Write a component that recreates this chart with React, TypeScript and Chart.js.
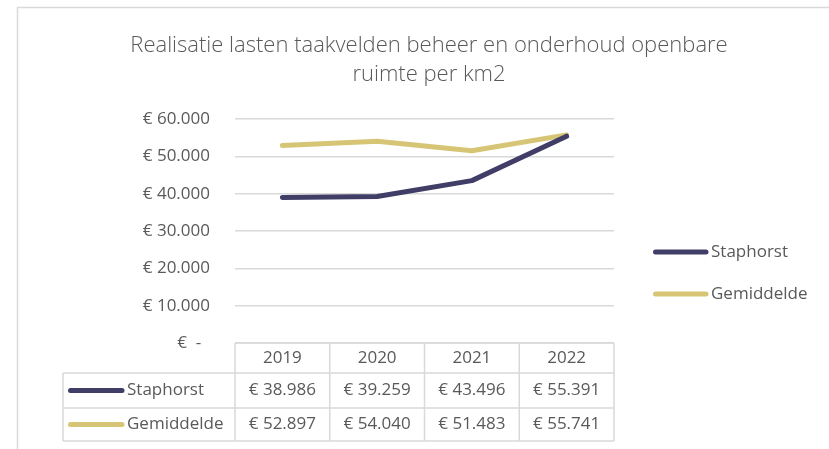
import React, { useEffect, useRef } from "react";
import { Chart, registerables } from "chart.js";

Chart.register(...registerables);

const titleLines = ["Realisatie lasten taakvelden beheer en onderhoud openbare", "ruimte per km2"];
const years = ["2019", "2020", "2021", "2022"];
const seriesNames = ["Staphorst", "Gemiddelde"];
const staphorst = [38986, 39259, 43496, 55391];
const gemiddelde = [52897, 54040, 51483, 55741];
const seriesColors = ["#403d66", "#d6c575"];
const yMin = 0;
const yMax = 60000;
const yStep = 10000;

const TEXT = "#595959";
const GRID = "#d9d9d9";
const FONT = "'Open Sans', 'Noto Sans', sans-serif";

function euro(v: number): string {
  if (v === 0) return "€  -  ";
  const s = Math.round(v).toString().replace(/\B(?=(\d{3})+(?!\d))/g, ".");
  return "€ " + s;
}

const overlayPlugin = {
  id: "overlay",
  beforeDraw(chart: any) {
    const ctx = chart.ctx;
    ctx.save();
    ctx.fillStyle = "#ffffff";
    ctx.fillRect(0, 0, chart.width, chart.height);
    ctx.strokeStyle = GRID;
    ctx.lineWidth = 1.5;
    ctx.strokeRect(17.5, 7.5, chart.width + 10, chart.height + 10);
    ctx.restore();
  },
  afterDraw(chart: any) {
    const ctx = chart.ctx;
    const area = chart.chartArea;
    const xs = chart.scales.x;
    ctx.save();
    // title
    ctx.fillStyle = TEXT;
    ctx.font = `300 22px ${FONT}`;
    ctx.textAlign = "center";
    ctx.textBaseline = "middle";
    titleLines.forEach((t, i) => ctx.fillText(t, 429, 46 + i * 29));

    // legend
    const legendY = [252, 294];
    seriesNames.forEach((name, i) => {
      ctx.strokeStyle = seriesColors[i];
      ctx.lineWidth = 5;
      ctx.lineCap = "round";
      ctx.beginPath();
      ctx.moveTo(655.5, legendY[i]);
      ctx.lineTo(706, legendY[i]);
      ctx.stroke();
      ctx.fillStyle = TEXT;
      ctx.font = `17px ${FONT}`;
      ctx.textAlign = "left";
      ctx.textBaseline = "middle";
      ctx.fillText(name, 711, legendY[i]);
    });

    // data table
    const n = years.length;
    const half = (xs.getPixelForValue(1) - xs.getPixelForValue(0)) / 2;
    const bounds: number[] = [];
    for (let i = 0; i < n; i++) bounds.push(xs.getPixelForValue(i) - half);
    bounds.push(xs.getPixelForValue(n - 1) + half);
    const top = area.bottom;
    const rowH = [30, 35, 33];
    const rowTops = [top, top + rowH[0], top + rowH[0] + rowH[1]];
    const bottom = top + rowH[0] + rowH[1] + rowH[2];
    const tableLeft = 63;
    const right = bounds[n];

    ctx.strokeStyle = GRID;
    ctx.lineWidth = 1.5;
    ctx.lineCap = "butt";
    ctx.beginPath();
    ctx.moveTo(bounds[0], top);
    ctx.lineTo(right, top);
    for (let r = 1; r <= 3; r++) {
      const y = r < 3 ? rowTops[r] : bottom;
      ctx.moveTo(tableLeft, y);
      ctx.lineTo(right, y);
    }
    ctx.moveTo(tableLeft, rowTops[1]);
    ctx.lineTo(tableLeft, bottom);
    bounds.forEach((b) => {
      ctx.moveTo(b, top);
      ctx.lineTo(b, bottom);
    });
    ctx.stroke();

    ctx.fillStyle = TEXT;
    ctx.font = `17px ${FONT}`;
    ctx.textAlign = "center";
    ctx.textBaseline = "middle";
    years.forEach((y, i) => ctx.fillText(y, xs.getPixelForValue(i), rowTops[0] + rowH[0] / 2));
    const values = [staphorst, gemiddelde];
    values.forEach((vals, r) => {
      const cy = rowTops[r + 1] + rowH[r + 1] / 2;
      vals.forEach((v, i) => ctx.fillText(euro(v), xs.getPixelForValue(i), cy));
      ctx.strokeStyle = seriesColors[r];
      ctx.lineWidth = 5;
      ctx.lineCap = "round";
      ctx.beginPath();
      ctx.moveTo(70.5, cy);
      ctx.lineTo(122, cy);
      ctx.stroke();
      ctx.textAlign = "left";
      ctx.fillText(seriesNames[r], 127, cy);
      ctx.textAlign = "center";
    });
    ctx.restore();
  },
};

export default function App() {
  const ref = useRef<HTMLCanvasElement | null>(null);
  useEffect(() => {
    document.body.style.margin = "0";
    const canvas = ref.current;
    if (!canvas) return;
    const chart = new Chart(canvas, {
      type: "line",
      data: {
        labels: years,
        datasets: [
          {
            label: seriesNames[0],
            data: staphorst,
            borderColor: seriesColors[0],
            backgroundColor: seriesColors[0],
            borderWidth: 5,
            borderCapStyle: "round",
            borderJoinStyle: "round",
            pointRadius: 0,
            tension: 0,
          },
          {
            label: seriesNames[1],
            data: gemiddelde,
            borderColor: seriesColors[1],
            backgroundColor: seriesColors[1],
            borderWidth: 5,
            borderCapStyle: "round",
            borderJoinStyle: "round",
            pointRadius: 0,
            tension: 0,
          },
        ],
      },
      options: {
        responsive: false,
        animation: false,
        devicePixelRatio: 1,
        layout: { padding: { top: 119, bottom: 106, left: 0, right: 215 } },
        plugins: {
          legend: { display: false },
          title: { display: false },
          tooltip: { enabled: false },
        },
        scales: {
          x: { type: "category", display: false, offset: true },
          y: {
            min: yMin,
            max: yMax,
            afterFit: (scale: any) => {
              scale.width = 235;
            },
            border: { display: false },
            grid: { color: GRID, lineWidth: 1.5, drawTicks: false },
            ticks: {
              stepSize: yStep,
              padding: 25,
              color: TEXT,
              font: { family: FONT, size: 17 },
              callback: (v: any) => euro(Number(v)),
            },
          },
        },
      },
      plugins: [overlayPlugin],
    });
    return () => chart.destroy();
  }, []);
  return (
    <div style={{ position: "fixed", left: 0, top: 0, width: 829, height: 449 }}>
      <canvas ref={ref} width={829} height={449} style={{ display: "block", width: 829, height: 449 }} />
    </div>
  );
}
